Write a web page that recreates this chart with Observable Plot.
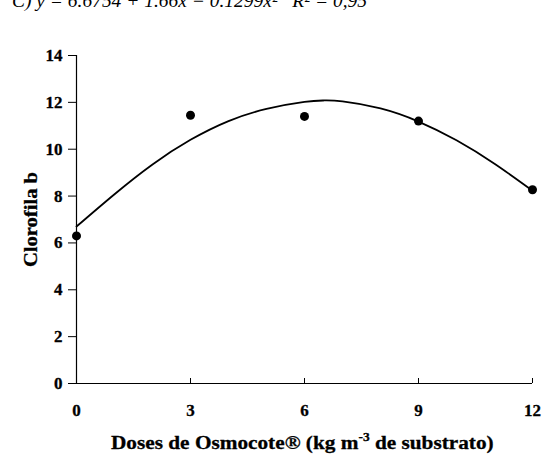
<!DOCTYPE html>
<html>
<head>
<meta charset="utf-8">
<script src="https://cdn.jsdelivr.net/npm/d3@7"></script>
<script src="https://cdn.jsdelivr.net/npm/@observablehq/plot@0.6"></script>
<style>
  body { margin: 0; background: #fff; }
  #wrap { position: relative; width: 543px; height: 455px; overflow: hidden; }
  #chart svg text { stroke: #000; stroke-width: 0.3px; }
  #chart svg text.eq { stroke: none; }
</style>
</head>
<body>
<div id="wrap">
  <div id="chart"></div>
</div>
<script>
// Observed points
const doses = [0, 3, 6, 9, 12];
const clorofilaB = [6.3, 11.45, 11.4, 11.2, 8.27];

// Fitted curve, values
const curveX = [0, 1, 2, 3, 4, 5, 6, 6.5, 7, 8, 9, 10, 11, 12];
const curveY = [6.7, 8.08, 9.35, 10.4, 11.2, 11.72, 12.02, 12.08, 12.04, 11.74, 11.18, 10.38, 9.38, 8.23];

const xTicks = [0, 3, 6, 9, 12];
const yTicks = [0, 2, 4, 6, 8, 10, 12, 14];

const equation = "C) y = 6.6754 + 1.66x − 0.1299x²   R² = 0,95";
const yTitle = "Clorofila b";
const xTitleParts = ["Doses de Osmocote® (kg m", "-3", " de substrato)"];

const points = doses.map((d, i) => ({x: d, y: clorofilaB[i]}));
const curve = curveX.map((d, i) => ({x: d, y: curveY[i]}));

const chart = Plot.plot({
  width: 543,
  height: 455,
  marginLeft: 76,
  marginRight: 11,
  marginTop: 55,
  marginBottom: 72,
  style: {fontFamily: "'Liberation Serif', serif", background: "#fff", color: "#000"},
  x: {domain: [0, 12]},
  y: {domain: [0, 14]},
  marks: [
    Plot.axisY({ticks: yTicks, tickSize: 8, tickPadding: 6, tickFormat: d => d, fontSize: 17, fontWeight: "bold", label: null}),
    Plot.axisX({ticks: xTicks, tickSize: -5, tickPadding: 25, tickFormat: d => d, fontSize: 17, fontWeight: "bold", label: null}),
    Plot.ruleY([0], {stroke: "#000", strokeWidth: 1.2}),
    Plot.ruleX([0], {stroke: "#000", strokeWidth: 1.2}),
    Plot.line(curve, {x: "x", y: "y", curve: "natural", stroke: "#000", strokeWidth: 1.8}),
    Plot.dot(points, {x: "x", y: "y", r: 4.5, fill: "#000", stroke: "none"})
  ]
});
document.getElementById("chart").appendChild(chart);

const svg = d3.select(chart);
const serif = "'Liberation Serif', serif";

// Equation line (cut off by the top edge, as in the reference)
svg.append("text")
  .attr("class", "eq")
  .attr("x", 12).attr("y", 6.5)
  .attr("text-anchor", "start")
  .attr("font-family", serif)
  .attr("font-style", "italic")
  .attr("font-size", 18)
  .attr("textLength", 355)
  .attr("lengthAdjust", "spacingAndGlyphs")
  .attr("fill", "#000")
  .text(equation);

// Y-axis title
svg.append("text")
  .attr("transform", "translate(37,219.5) rotate(-90)")
  .attr("text-anchor", "middle")
  .attr("font-family", serif)
  .attr("font-weight", "bold")
  .attr("font-size", 19)
  .attr("textLength", 95)
  .attr("lengthAdjust", "spacingAndGlyphs")
  .attr("fill", "#000")
  .text(yTitle);

// X-axis title with superscript
const t = svg.append("text")
  .attr("x", 111).attr("y", 449)
  .attr("text-anchor", "start")
  .attr("font-family", serif)
  .attr("font-weight", "bold")
  .attr("font-size", 19)
  .attr("fill", "#000");
t.append("tspan").text(xTitleParts[0]);
t.append("tspan").attr("dy", -8).attr("font-size", 12).text(xTitleParts[1]);
t.append("tspan").attr("dy", 8).text(xTitleParts[2]);
// stretch to the reference's width
const w = t.node().getComputedTextLength();
t.attr("transform", `translate(111,0) scale(${383 / w},1) translate(-111,0)`);
</script>
</body>
</html>
